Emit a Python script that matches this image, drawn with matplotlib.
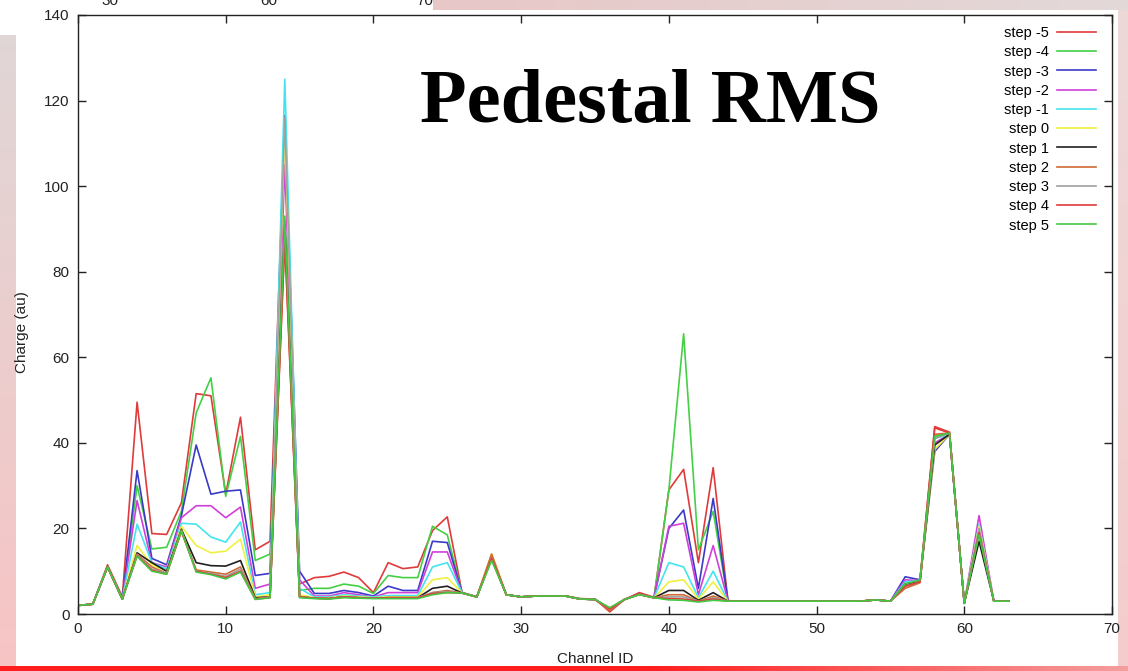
import numpy as np
import matplotlib
matplotlib.use('Agg')
import matplotlib.pyplot as plt

# Channel IDs and per-step pedestal RMS values
channels = list(range(64))

step_m5 = [2.0, 2.3, 11.5, 4.0, 49.5, 18.8, 18.6, 26.0, 51.5, 51.0,
           28.0, 46.0, 15.0, 17.0, 116.0, 7.0, 8.5, 8.8, 9.8, 8.5,
           5.0, 12.0, 10.6, 11.0, 19.5, 22.7, 5.0, 4.0, 13.8, 4.5,
           4.0, 4.2, 4.2, 4.2, 3.6, 3.5, 0.5, 3.4, 5.0, 3.9,
           29.0, 33.8, 12.0, 34.2, 3.1, 3.0, 3.0, 3.0, 3.0, 3.0,
           3.0, 3.0, 3.0, 3.0, 3.3, 3.0, 7.0, 8.0, 43.8, 42.5,
           2.5, 20.0, 3.0, 3.0]
step_m4 = [2.0, 2.3, 11.0, 3.5, 30.0, 15.2, 15.6, 24.0, 47.0, 55.2,
           27.5, 41.5, 12.5, 14.0, 93.0, 5.5, 6.0, 6.0, 7.0, 6.5,
           4.8, 9.0, 8.5, 8.5, 20.5, 18.5, 5.0, 4.0, 13.0, 4.5,
           4.0, 4.2, 4.2, 4.2, 3.5, 3.4, 1.2, 3.4, 4.6, 3.8,
           29.0, 65.5, 15.0, 24.0, 3.1, 3.0, 3.0, 3.0, 3.0, 3.0,
           3.0, 3.0, 3.0, 3.0, 3.3, 3.0, 7.5, 7.8, 41.5, 42.3,
           2.5, 19.5, 3.0, 3.0]
step_m3 = [2.0, 2.3, 11.0, 3.5, 33.5, 13.0, 11.5, 23.0, 39.5, 28.0,
           28.7, 29.0, 9.0, 9.5, 116.5, 10.0, 4.8, 4.8, 5.5, 5.0,
           4.2, 6.5, 5.5, 5.5, 17.0, 16.7, 5.0, 4.0, 13.0, 4.5,
           4.0, 4.2, 4.2, 4.2, 3.5, 3.4, 1.2, 3.4, 4.6, 3.8,
           20.0, 24.3, 6.0, 27.0, 3.1, 3.0, 3.0, 3.0, 3.0, 3.0,
           3.0, 3.0, 3.0, 3.0, 3.3, 3.0, 8.7, 8.0, 38.0, 42.0,
           2.5, 20.0, 3.0, 3.0]
step_m2 = [2.0, 2.3, 11.0, 3.5, 26.5, 12.0, 11.0, 22.5, 25.3, 25.3,
           22.5, 25.0, 6.0, 7.0, 105.0, 8.0, 4.2, 4.2, 5.0, 4.5,
           4.0, 5.0, 5.0, 5.0, 14.5, 14.5, 5.0, 4.0, 13.0, 4.5,
           4.0, 4.2, 4.2, 4.2, 3.5, 3.4, 1.2, 3.4, 4.6, 3.8,
           20.5, 21.2, 4.5, 16.0, 3.1, 3.0, 3.0, 3.0, 3.0, 3.0,
           3.0, 3.0, 3.0, 3.0, 3.3, 3.0, 8.0, 7.8, 40.0, 42.0,
           2.5, 23.0, 3.0, 3.0]
step_m1 = [2.0, 2.3, 11.0, 3.5, 21.0, 12.0, 10.5, 21.2, 21.0, 18.0,
           16.8, 21.5, 4.5, 5.0, 125.0, 6.0, 4.0, 4.0, 4.5, 4.2,
           4.0, 4.3, 4.3, 4.3, 11.0, 12.0, 5.0, 4.0, 13.0, 4.5,
           4.0, 4.2, 4.2, 4.2, 3.5, 3.4, 1.2, 3.4, 4.6, 3.8,
           12.0, 11.0, 3.8, 10.0, 3.0, 3.0, 3.0, 3.0, 3.0, 3.0,
           3.0, 3.0, 3.0, 3.0, 3.3, 3.0, 7.5, 7.8, 41.0, 42.0,
           2.5, 21.0, 3.0, 3.0]
step_0 = [2.0, 2.3, 11.0, 3.5, 16.0, 11.5, 10.0, 20.5, 16.0, 14.3,
          14.7, 17.5, 4.0, 4.5, 113.0, 4.5, 3.8, 3.8, 4.2, 4.0,
          3.8, 4.0, 4.0, 4.0, 8.0, 8.5, 4.9, 4.0, 14.0, 4.5,
          4.0, 4.2, 4.2, 4.2, 3.5, 3.4, 1.2, 3.4, 4.6, 3.8,
          7.5, 8.0, 3.5, 7.5, 3.0, 3.0, 3.0, 3.0, 3.0, 3.0,
          3.0, 3.0, 3.0, 3.0, 3.3, 3.0, 7.0, 7.5, 38.5, 42.0,
          2.5, 20.5, 3.0, 3.0]
step_1 = [2.0, 2.3, 11.0, 3.5, 14.3, 12.0, 10.0, 19.8, 12.0, 11.3,
          11.2, 12.5, 3.8, 4.0, 91.0, 4.0, 3.7, 3.6, 4.0, 3.8,
          3.7, 3.8, 3.8, 3.8, 6.0, 6.5, 4.9, 4.0, 13.0, 4.5,
          4.0, 4.2, 4.2, 4.2, 3.5, 3.4, 1.2, 3.4, 4.6, 3.8,
          5.5, 5.5, 3.2, 5.0, 3.0, 3.0, 3.0, 3.0, 3.0, 3.0,
          3.0, 3.0, 3.0, 3.0, 3.3, 3.0, 7.0, 7.5, 39.5, 42.0,
          2.5, 17.0, 3.0, 3.0]
step_2 = [2.0, 2.3, 11.0, 3.5, 14.0, 11.0, 9.5, 19.5, 10.3, 9.8,
          9.3, 11.0, 3.6, 4.0, 88.0, 4.0, 3.7, 3.6, 4.0, 3.8,
          3.7, 3.8, 3.8, 3.8, 5.0, 5.5, 4.9, 4.0, 14.0, 4.5,
          4.0, 4.2, 4.2, 4.2, 3.5, 3.4, 0.8, 3.4, 4.6, 3.8,
          4.5, 4.5, 3.0, 4.2, 3.0, 3.0, 3.0, 3.0, 3.0, 3.0,
          3.0, 3.0, 3.0, 3.0, 3.3, 3.0, 6.0, 7.3, 42.0, 42.3,
          2.5, 19.5, 3.0, 3.0]
step_3 = [2.0, 2.3, 11.0, 3.5, 13.8, 10.5, 9.5, 19.5, 10.0, 9.5,
          8.8, 10.5, 3.5, 3.9, 116.0, 4.0, 3.7, 3.6, 4.0, 3.8,
          3.7, 3.8, 3.8, 3.8, 5.0, 5.2, 4.9, 4.0, 13.0, 4.5,
          4.0, 4.2, 4.2, 4.2, 3.5, 3.4, 1.2, 3.4, 4.6, 3.8,
          4.0, 4.0, 3.0, 3.8, 3.0, 3.0, 3.0, 3.0, 3.0, 3.0,
          3.0, 3.0, 3.0, 3.0, 3.3, 3.0, 6.5, 7.5, 41.0, 42.3,
          2.5, 20.0, 3.0, 3.0]
step_4 = [2.0, 2.3, 11.0, 3.5, 13.6, 10.2, 9.3, 19.3, 10.0, 9.3,
          8.5, 10.0, 3.5, 3.8, 87.0, 4.0, 3.7, 3.6, 4.0, 3.8,
          3.7, 3.8, 3.8, 3.8, 4.8, 5.0, 4.9, 4.0, 13.0, 4.5,
          4.0, 4.2, 4.2, 4.2, 3.5, 3.4, 1.2, 3.4, 4.6, 3.8,
          3.6, 3.5, 3.0, 3.5, 3.0, 3.0, 3.0, 3.0, 3.0, 3.0,
          3.0, 3.0, 3.0, 3.0, 3.3, 3.0, 6.5, 7.5, 43.5, 42.3,
          2.5, 19.0, 3.0, 3.0]
step_5 = [2.0, 2.3, 11.0, 3.5, 13.5, 10.0, 9.3, 19.5, 9.8, 9.2,
          8.2, 9.8, 3.4, 3.8, 92.0, 3.8, 3.6, 3.5, 3.8, 3.7,
          3.6, 3.6, 3.6, 3.6, 4.5, 5.0, 4.9, 4.0, 12.5, 4.5,
          4.0, 4.2, 4.2, 4.2, 3.5, 3.4, 1.5, 3.4, 4.5, 3.8,
          3.3, 3.2, 2.8, 3.2, 3.0, 3.0, 3.0, 3.0, 3.0, 3.0,
          3.0, 3.0, 3.0, 3.0, 3.3, 3.0, 7.0, 8.0, 41.5, 42.3,
          2.5, 18.5, 3.0, 3.0]

series = [step_m5, step_m4, step_m3, step_m2, step_m1, step_0,
          step_1, step_2, step_3, step_4, step_5]
labels = ['step -5', 'step -4', 'step -3', 'step -2', 'step -1', 'step 0',
          'step 1', 'step 2', 'step 3', 'step 4', 'step 5']
colors = ['#e03a3a', '#44d044', '#3a3ac8', '#d040d8', '#44e4ee', '#f0f040',
          '#202020', '#d06a34', '#a0a0a0', '#e03a3a', '#44c844']

plt.rcParams['font.family'] = ['Liberation Sans', 'DejaVu Sans']

W, H = 1128, 671
fig = plt.figure(figsize=(W / 100, H / 100), dpi=100)

# slide background: white panel with pinkish strips around it
bg = np.ones((H, W, 3))
t = np.linspace(0, 1, 667 - 35)[:, None]
bg[35:667, 0:16] = ((1 - t) * np.array([0.88, 0.84, 0.84]) + t * np.array([0.97, 0.77, 0.77]))[:, None, :]
s = np.linspace(0, 1, W - 433)[:, None]
bg[0:10, 433:W] = ((1 - s) * np.array([0.91, 0.78, 0.78]) + s * np.array([0.89, 0.85, 0.85]))[None, :, :]
t = np.linspace(0, 1, 667 - 10)[:, None]
bg[10:667, 1118:W] = ((1 - t) * np.array([0.93, 0.85, 0.85]) + t * np.array([0.96, 0.80, 0.80]))[:, None, :]
bgax = fig.add_axes([0, 0, 1, 1], zorder=-10)
bgax.imshow(bg, extent=[0, W, H, 0], aspect='auto', interpolation='bilinear')
bgax.set_axis_off()

# cut-off labels of the plot underneath (only their lower part shows)
for xp, txt in [(110, '30'), (269, '60'), (425, '70')]:
    fig.text(xp / W, 1 - 5 / H, txt, ha='center', va='baseline', fontsize=11, color='#222222')

ax = fig.add_axes([78 / W, 1 - 614 / H, (1112 - 78) / W, (614 - 15) / H])
ax.set_facecolor('none')
for ys, lab, c in zip(series, labels, colors):
    ax.plot(channels, ys, color=c, lw=1.2, label=lab)

ax.set_xlim(0, 70)
ax.set_ylim(0, 140)
ax.set_xticks(range(0, 71, 10))
ax.set_yticks(range(0, 141, 20))
ax.tick_params(direction='in', length=6, width=1, top=True, right=True,
               labelsize=11, pad=6, colors='#222222')
for sp in ax.spines.values():
    sp.set_linewidth(1.0)
    sp.set_color('#222222')

ax.set_xlabel('Channel ID', fontsize=11, color='#222222')
ax.set_ylabel('Charge (au)', fontsize=11, color='#222222')
ax.xaxis.set_label_coords(0.5, -0.064)
ax.yaxis.set_label_coords(-0.047, 0.47)

ax.legend(loc='upper right', bbox_to_anchor=(0.9845, 0.9816), frameon=False,
          markerfirst=False, fontsize=10.5, handlelength=2.7, handletextpad=0.5,
          labelspacing=0.36, borderpad=0, borderaxespad=0)

fig.text(420 / W, 1 - 122 / H, 'Pedestal RMS', fontsize=55, fontweight='bold',
         family='Liberation Serif', ha='left', va='baseline', color='black')

# red band at the bottom of the slide, drawn over the axis label
band = np.ones((1, W, 3))
u = np.clip((np.arange(W) - 650) / (W - 650), 0, 1)[:, None]
band[0] = (1 - u) * np.array([1.0, 0.12, 0.12]) + u * np.array([0.96, 0.62, 0.62])
bandax = fig.add_axes([0, 0, 1, 5 / H], zorder=10)
bandax.imshow(band, extent=[0, W, 1, 0], aspect='auto', interpolation='bilinear')
bandax.set_axis_off()

fig.savefig('out.png', dpi=100)
